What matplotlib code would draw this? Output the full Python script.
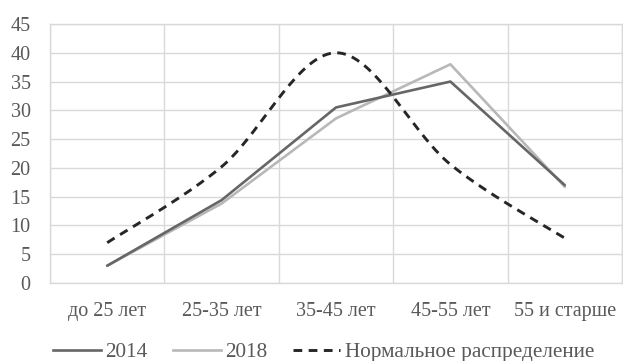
import numpy as np
import matplotlib
matplotlib.use("Agg")
import matplotlib.pyplot as plt
from matplotlib.lines import Line2D

categories = ["до 25 лет", "25-35 лет", "35-45 лет", "45-55 лет", "55 и старше"]
values_2014 = [3.0, 14.4, 30.5, 35.0, 17.0]
values_2018 = [3.0, 13.8, 28.6, 38.0, 16.7]
values_normal = [7.0, 20.2, 40.0, 20.6, 7.8]
yticks = [0, 5, 10, 15, 20, 25, 30, 35, 40, 45]


def smooth_curve(x, y, n=40):
    """Bezier smoothing through every point (spreadsheet-style smoothed line)."""
    x = np.asarray(x, float)
    y = np.asarray(y, float)
    px = np.concatenate([[x[0]], x, [x[-1]]])
    py = np.concatenate([[y[0]], y, [y[-1]]])
    xs, ys = [], []
    t = np.linspace(0, 1, n)
    for i in range(len(x) - 1):
        p0 = np.array([px[i + 1], py[i + 1]])
        p3 = np.array([px[i + 2], py[i + 2]])
        p1 = p0 + (np.array([px[i + 2], py[i + 2]]) - np.array([px[i], py[i]])) / 6
        p2 = p3 - (np.array([px[i + 3], py[i + 3]]) - np.array([px[i + 1], py[i + 1]])) / 6
        b = ((1 - t) ** 3)[:, None] * p0 + (3 * (1 - t) ** 2 * t)[:, None] * p1 \
            + (3 * (1 - t) * t ** 2)[:, None] * p2 + (t ** 3)[:, None] * p3
        xs.append(b[:, 0])
        ys.append(b[:, 1])
    return np.concatenate(xs), np.concatenate(ys)


plt.rcParams["font.family"] = ["Liberation Serif", "DejaVu Serif"]

fig = plt.figure(figsize=(6.23, 3.61), dpi=100)
ax = fig.add_axes([50 / 623, 1 - 283 / 361, 572 / 623, 259 / 361])

x = np.arange(len(categories))
c2014 = "#666666"
c2018 = "#b8b8b8"
cnorm = "#262626"
lw = 1.9
dash = (0, (3.0, 2.2))

ax.plot(x, values_2014, color=c2014, lw=lw, solid_capstyle="round", zorder=3)
ax.plot(x, values_2018, color=c2018, lw=lw, solid_capstyle="round", zorder=2)
sx, sy = smooth_curve(x, values_normal)
ax.plot(sx, sy, color=cnorm, lw=2.1, linestyle=dash, zorder=4)

ax.set_xlim(-0.5, len(categories) - 0.5)
ax.set_ylim(0, 45)
ax.set_yticks(yticks)
ax.set_xticks(x)
ax.set_xticklabels(categories)
ax.set_xticks(np.arange(-0.5, len(categories)), minor=True)

grid_c = "#d9d9d9"
ax.grid(True, axis="y", color=grid_c, lw=1.0)
ax.grid(True, axis="x", which="minor", color=grid_c, lw=1.0)
ax.grid(False, axis="x", which="major")
for s in ax.spines.values():
    s.set_color(grid_c)
    s.set_linewidth(1.0)
ax.set_axisbelow(True)

fs = 14.5
ax.tick_params(axis="both", which="both", length=0, labelsize=fs, colors="#595959")
ax.tick_params(axis="x", pad=14)
ax.tick_params(axis="y", pad=14)

handles = [
    Line2D([], [], color=c2014, lw=lw),
    Line2D([], [], color=c2018, lw=lw),
    Line2D([], [], color=cnorm, lw=2.1, linestyle=dash),
]
fig.legend(handles, ["2014", "2018", "Нормальное распределение"],
           loc="center", bbox_to_anchor=(323.5 / 623, 1 - 352 / 361), ncol=3,
           frameon=False, fontsize=15.3, handlelength=2.25, handletextpad=0.2,
           columnspacing=1.2, labelcolor="#595959", borderaxespad=0, borderpad=0)

fig.savefig("out.png", dpi=100)
